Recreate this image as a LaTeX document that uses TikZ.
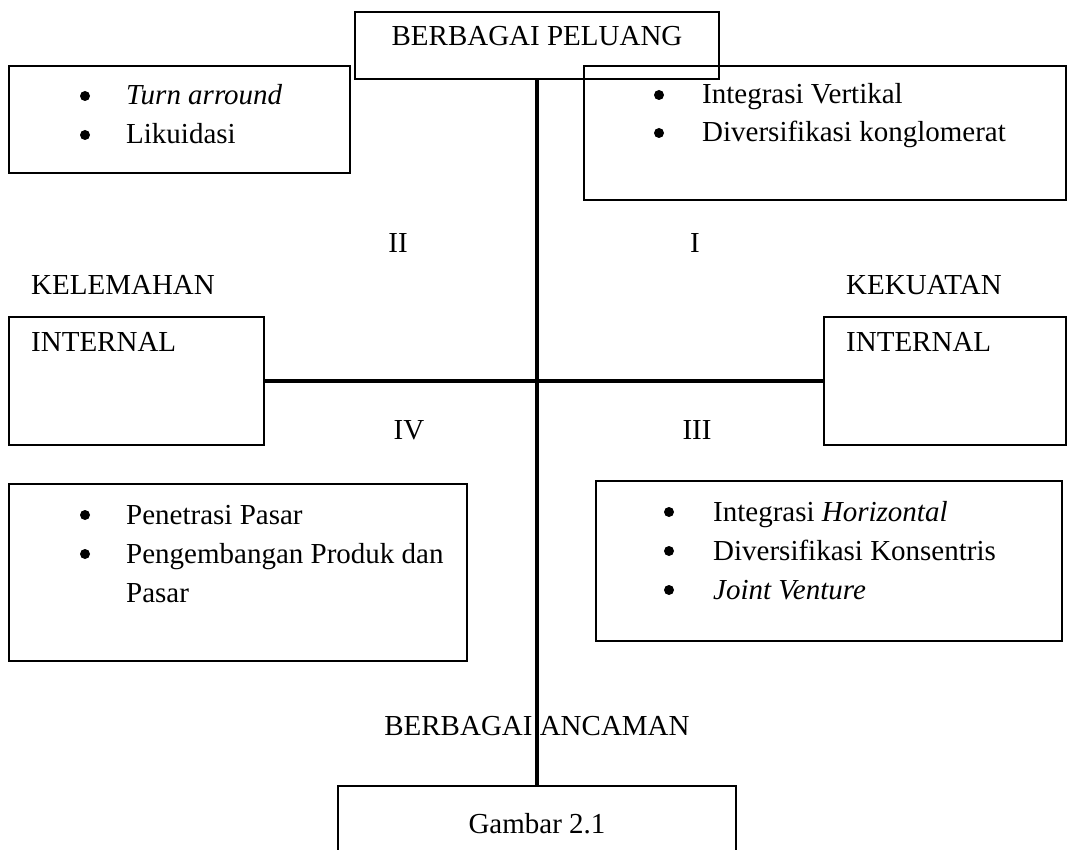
\documentclass[tikz,border=0pt]{standalone}
\usepackage{fontspec}
\setmainfont{Liberation Serif}
\begin{document}
\begin{tikzpicture}[x=1pt,y=-1pt,
  frame/.style={draw, line width=1.4pt, inner sep=0pt, outer sep=0pt},
  axisline/.style={line width=3.6pt},
  txt/.style={font=\fontsize{29}{39}\selectfont, inner sep=0pt, anchor=base},
  txtw/.style={txt, anchor=base west},
  bulletdot/.style={circle, fill, inner sep=0pt, minimum size=10pt, yshift=9pt},
]
\useasboundingbox (0,0) rectangle (1072,850);
\clip (0,0) rectangle (1072,850);

% frames
\node[frame, minimum width=364, minimum height=67]  (peluang)  at (537,45.5) {};
\node[frame, minimum width=341, minimum height=107] (kiriatas) at (179.5,119.5) {};
\node[frame, minimum width=482, minimum height=134] (kananatas) at (825,133) {};
\node[frame, minimum width=255, minimum height=128] (intkiri)  at (136.5,381) {};
\node[frame, minimum width=242, minimum height=128] (intkanan) at (945,381) {};
\node[frame, minimum width=458, minimum height=177] (kiribawah) at (238,572.5) {};
\node[frame, minimum width=466, minimum height=160] (kananbawah) at (829,561) {};
\node[frame, minimum width=398, minimum height=80]  (gambar)   at (537,826) {};

% axes
\draw[axisline] (peluang.south) -- (gambar.north);
\draw[axisline] (intkiri.east) -- (intkanan.west);

% titles
\node[txt] (tpeluang) at (537,46) {BERBAGAI PELUANG};
\node[txt] (tancaman) at (537,735) {BERBAGAI ANCAMAN};
\node[txt] (tgambar)  at (537,833) {Gambar 2.1};

% quadrant numbers
\node[txt] (q2) at (398,253) {II};
\node[txt] (q1) at (695,253) {I};
\node[txt] (q4) at (409,440) {IV};
\node[txt] (q3) at (697,440) {III};

% side labels
\node[txtw] (lemah) at (31,295) {KELEMAHAN};
\node[txtw] (kuat)  at (846,295) {KEKUATAN};
\node[txtw] (int1)  at (31,352) {INTERNAL};
\node[txtw] (int2)  at (846,352) {INTERNAL};

% quadrant II strategies
\node[bulletdot] (b21) at (85,105) {};
\node[bulletdot] (b22) at (85,144) {};
\node[txtw] (s21) at (126,105) {\itshape Turn arround};
\node[txtw] (s22) at (126,144) {Likuidasi};

% quadrant I strategies
\node[bulletdot] (b11) at (659,104) {};
\node[bulletdot] (b12) at (659,142) {};
\node[txtw] (s11) at (702,104) {Integrasi Vertikal};
\node[txtw] (s12) at (702,142) {Diversifikasi konglomerat};

% quadrant IV strategies
\node[bulletdot] (b41) at (85,524) {};
\node[bulletdot] (b42) at (85,563) {};
\node[txtw] (s41) at (126,524) {Penetrasi Pasar};
\node[txtw] (s42) at (126,563) {Pengembangan Produk dan};
\node[txtw] (s43) at (126,602) {Pasar};

% quadrant III strategies
\node[bulletdot] (b31) at (669,521) {};
\node[bulletdot] (b32) at (669,560) {};
\node[bulletdot] (b33) at (669,599) {};
\node[txtw] (s31) at (713,521) {Integrasi \textit{Horizontal}};
\node[txtw] (s32) at (713,560) {Diversifikasi Konsentris};
\node[txtw] (s33) at (713,599) {\itshape Joint Venture};
\end{tikzpicture}
\end{document}
